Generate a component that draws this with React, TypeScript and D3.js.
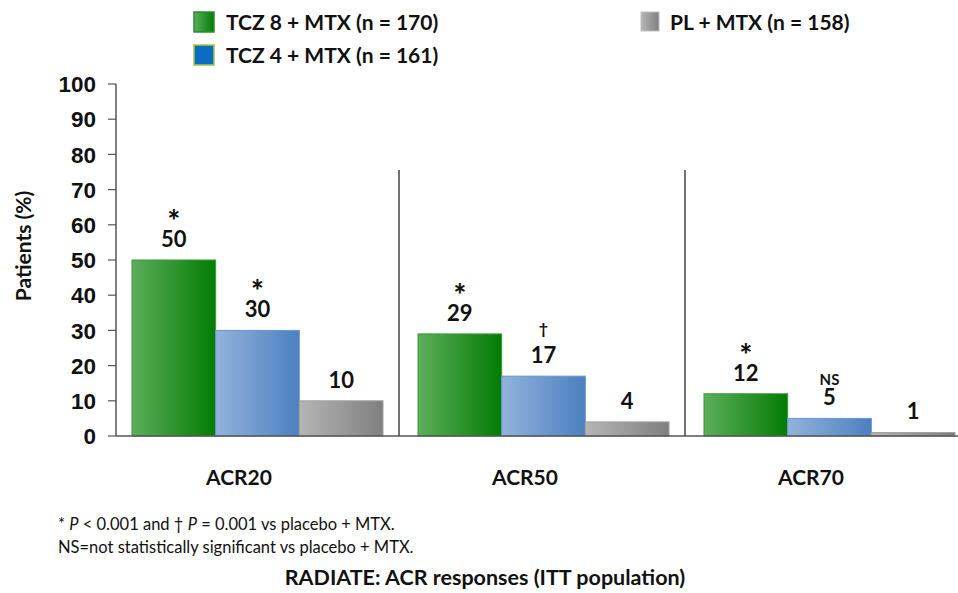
import React from "react";
import * as d3 from "d3";

const categories = ["ACR20", "ACR50", "ACR70"];
const seriesNames = ["TCZ 8 + MTX (n = 170)", "TCZ 4 + MTX (n = 161)", "PL + MTX (n = 158)"];
const tcz8 = [50, 29, 12];
const tcz4 = [30, 17, 5];
const pl = [10, 4, 1];
const tcz8Marks = ["*", "*", "*"];
const tcz4Marks = ["*", "†", "NS"];
const plMarks = ["", "", ""];
const yTicks = [0, 10, 20, 30, 40, 50, 60, 70, 80, 90, 100];
const footnotes = ["P < 0.001 and † P = 0.001 vs placebo + MTX.", "NS=not statistically significant vs placebo + MTX."];
const title = "RADIATE: ACR responses (ITT population)";

const W = 958, H = 593;
const FONT = "Lato, 'Open Sans', sans-serif";
const ARIAL = "'Liberation Sans', Arial, sans-serif";

export default function App() {
  const y = d3.scaleLinear().domain([0, 100]).range([436, 84]);
  const x0 = d3.scaleBand<string>().domain(categories).range([114, 972]).padding(0);
  const keys = ["tcz8", "tcz4", "pl"];
  const x1 = d3.scaleBand<string>().domain(keys).range([18, 269]).padding(0);
  const values: Record<string, number[]> = { tcz8, tcz4, pl };
  const marks: Record<string, string[]> = { tcz8: tcz8Marks, tcz4: tcz4Marks, pl: plMarks };
  const fills: Record<string, string> = { tcz8: "url(#gGreen)", tcz4: "url(#gBlue)", pl: "url(#gGray)" };
  const strokes: Record<string, string> = { tcz8: "#3a9a3a", tcz4: "#6a95cf", pl: "#a0a0a0" };

  return (
    <svg width={W} height={H} style={{ display: "block", position: "absolute", left: 0, top: 0, background: "#fff" }}>
      <defs>
        <linearGradient id="gGreen" x1="0" x2="1" y1="0" y2="0">
          <stop offset="0" stopColor="#5cae5c" />
          <stop offset="1" stopColor="#037c03" />
        </linearGradient>
        <linearGradient id="gBlue" x1="0" x2="1" y1="0" y2="0">
          <stop offset="0" stopColor="#92b2db" />
          <stop offset="1" stopColor="#4c80c0" />
        </linearGradient>
        <linearGradient id="gGray" x1="0" x2="1" y1="0" y2="0">
          <stop offset="0" stopColor="#b5b5b5" />
          <stop offset="1" stopColor="#7f7f7f" />
        </linearGradient>
      </defs>

      {/* Legend */}
      <g fontFamily={FONT} fontWeight={700} fontSize={21} fill="#111">
        <rect x={194} y={12} width={20} height={20} fill="url(#gGreen)" stroke="#2e8b2e" strokeWidth={1.5} />
        <text x={226} y={30}>{seriesNames[0]}</text>
        <rect x={194} y={45} width={20} height={20} fill="#0b6cc4" stroke="#a8c83a" strokeWidth={1.5} />
        <text x={226} y={63}>{seriesNames[1]}</text>
        <rect x={641} y={12} width={18} height={19} fill="url(#gGray)" stroke="#c0c0c0" strokeWidth={1} />
        <text x={670} y={30}>{seriesNames[2]}</text>
      </g>

      {/* Y axis */}
      <line x1={116} x2={116} y1={y(100)} y2={y(0)} stroke="#555" strokeWidth={1.5} />
      {yTicks.map((t) => (
        <g key={t}>
          <line x1={108} x2={116} y1={y(t)} y2={y(t)} stroke="#555" strokeWidth={1.2} />
          <text x={96} y={y(t)} dy="0.36em" textAnchor="end" fontFamily={ARIAL} fontWeight={700} fontSize={22.5} fill="#111">{t}</text>
        </g>
      ))}
      <text transform={`translate(31,${y(54)}) rotate(-90)`} textAnchor="middle" fontFamily={FONT} fontWeight={700} fontSize={21} fill="#111">Patients (%)</text>

      {/* Dividers */}
      {categories.slice(1).map((c) => (
        <line key={c} x1={x0(c)! - 1} x2={x0(c)! - 1} y1={170} y2={y(0)} stroke="#444" strokeWidth={1.5} />
      ))}

      {/* Bars */}
      {categories.map((c, i) => (
        <g key={c} transform={`translate(${x0(c)},0)`}>
          {keys.map((k) => {
            const v = values[k][i];
            const bx = x1(k)!;
            const bw = x1.bandwidth();
            const cx = bx + bw / 2;
            const m = marks[k][i];
            return (
              <g key={k}>
                <rect x={bx} y={y(v)} width={bw} height={y(0) - y(v)} fill={fills[k]} stroke={strokes[k]} strokeWidth={1} />
                <text x={cx} y={y(v) - 13} textAnchor="middle" fontFamily={FONT} fontWeight={700} fontSize={22} fill="#111">{v}</text>
                {m === "NS" ? (
                  <text x={cx} y={y(v) - 33} textAnchor="middle" fontFamily={FONT} fontWeight={700} fontSize={15} fill="#111">{m}</text>
                ) : m === "†" ? (
                  <text x={cx} y={y(v) - 42} textAnchor="middle" fontFamily={FONT} fontWeight={700} fontSize={16} fill="#111">{m}</text>
                ) : m ? (
                  <text x={cx} y={y(v) - 28} textAnchor="middle" fontFamily={FONT} fontWeight={900} fontSize={30} fill="#111">{m}</text>
                ) : null}
              </g>
            );
          })}
          <text x={x0.bandwidth() / 2 - 18} y={485} textAnchor="middle" fontFamily={FONT} fontWeight={700} fontSize={21} fill="#111">{c}</text>
        </g>
      ))}

      {/* X axis */}
      <line x1={116} x2={958} y1={y(0)} y2={y(0)} stroke="#555" strokeWidth={1.5} />

      {/* Footnotes */}
      <g fontFamily={FONT} fontSize={16.5} fill="#111">
        <text x={58} y={530}>
          <tspan>* </tspan><tspan fontStyle="italic">P</tspan><tspan> &lt; 0.001 and † </tspan><tspan fontStyle="italic">P</tspan><tspan> = 0.001 vs placebo + MTX.</tspan>
        </text>
        <text x={58} y={553}>{footnotes[1]}</text>
      </g>
      <text x={485} y={585} textAnchor="middle" fontFamily={FONT} fontWeight={700} fontSize={21.5} fill="#111">{title}</text>
    </svg>
  );
}
